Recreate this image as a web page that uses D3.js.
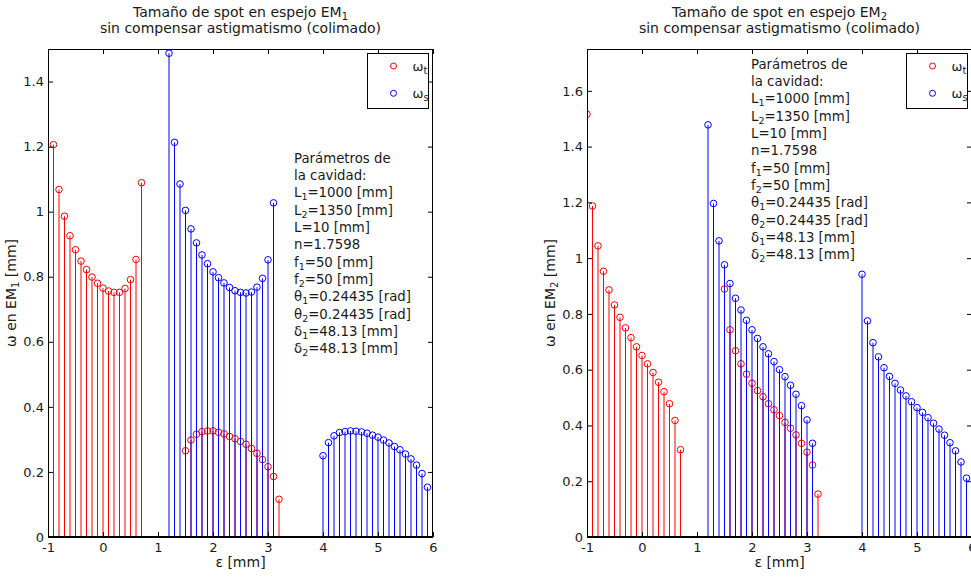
<!DOCTYPE html>
<html><head><meta charset="utf-8">
<script src="https://cdn.jsdelivr.net/npm/d3@7"></script>
<style>
html,body{margin:0;padding:0;background:#fff;overflow:hidden;}
text{font-family:"DejaVu Sans",sans-serif;fill:#1a1a1a;}
</style></head>
<body><svg id="c" width="971" height="578"></svg>
<script>
// ---------- data ----------
const xTicks = [-1,0,1,2,3,4,5,6];
const yTicksL = [0,0.2,0.4,0.6,0.8,1,1.2,1.4];
const yTicksR = [0,0.2,0.4,0.6,0.8,1,1.2,1.4,1.6];

// EM1 (left) — omega_t (red)
const L_t1_x = [-1.0,-0.9,-0.8,-0.7,-0.6,-0.5,-0.4,-0.3,-0.2,-0.1,0.0,0.1,0.2,0.3,0.4,0.5,0.6,0.7];
const L_t1_y = [1.9,1.206,1.068,0.986,0.926,0.883,0.848,0.822,0.799,0.780,0.765,0.756,0.752,0.752,0.764,0.791,0.853,1.089];
const L_t2_x = [1.5,1.6,1.7,1.8,1.9,2.0,2.1,2.2,2.3,2.4,2.5,2.6,2.7,2.8,2.9,3.0,3.1,3.2];
const L_t2_y = [0.265,0.298,0.316,0.324,0.326,0.326,0.322,0.317,0.309,0.302,0.294,0.285,0.272,0.257,0.238,0.216,0.186,0.116];
// EM1 (left) — omega_s (blue)
const L_s1_x = [1.2,1.3,1.4,1.5,1.6,1.7,1.8,1.9,2.0,2.1,2.2,2.3,2.4,2.5,2.6,2.7,2.8,2.9,3.0,3.1];
const L_s1_y = [1.487,1.213,1.085,1.004,0.947,0.904,0.867,0.840,0.815,0.797,0.781,0.767,0.757,0.752,0.750,0.753,0.768,0.795,0.852,1.027];
const L_s2_x = [4.0,4.1,4.2,4.3,4.4,4.5,4.6,4.7,4.8,4.9,5.0,5.1,5.2,5.3,5.4,5.5,5.6,5.7,5.8,5.9];
const L_s2_y = [0.250,0.290,0.311,0.321,0.324,0.326,0.325,0.323,0.319,0.313,0.307,0.298,0.289,0.278,0.268,0.255,0.240,0.221,0.195,0.153];

// EM2 (right) — omega_t (red)
const R_t1_x = [-1.0,-0.9,-0.8,-0.7,-0.6,-0.5,-0.4,-0.3,-0.2,-0.1,0.0,0.1,0.2,0.3,0.4,0.5,0.6,0.7];
const R_t1_y = [1.516,1.187,1.044,0.953,0.886,0.832,0.788,0.750,0.715,0.682,0.651,0.621,0.590,0.555,0.521,0.478,0.418,0.313];
const R_t2_x = [1.5,1.6,1.7,1.8,1.9,2.0,2.1,2.2,2.3,2.4,2.5,2.6,2.7,2.8,2.9,3.0,3.1,3.2];
const R_t2_y = [0.889,0.743,0.668,0.621,0.584,0.551,0.525,0.503,0.478,0.456,0.435,0.411,0.390,0.366,0.336,0.304,0.258,0.154];
// EM2 (right) — omega_s (blue)
const R_s1_x = [1.2,1.3,1.4,1.5,1.6,1.7,1.8,1.9,2.0,2.1,2.2,2.3,2.4,2.5,2.6,2.7,2.8,2.9,3.0,3.1];
const R_s1_y = [1.478,1.196,1.062,0.976,0.909,0.856,0.814,0.777,0.743,0.712,0.682,0.657,0.629,0.600,0.575,0.544,0.512,0.471,0.420,0.336];
const R_s2_x = [4.0,4.1,4.2,4.3,4.4,4.5,4.6,4.7,4.8,4.9,5.0,5.1,5.2,5.3,5.4,5.5,5.6,5.7,5.8,5.9];
const R_s2_y = [0.942,0.775,0.697,0.646,0.607,0.576,0.551,0.527,0.506,0.485,0.464,0.447,0.428,0.408,0.387,0.365,0.338,0.309,0.269,0.211];

const paramLines = ["Parámetros de","la cavidad:","L_1=1000 [mm]","L_2=1350 [mm]","L=10 [mm]","n=1.7598",
  "f_1=50 [mm]","f_2=50 [mm]","θ_1=0.24435 [rad]","θ_2=0.24435 [rad]","δ_1=48.13 [mm]","δ_2=48.13 [mm]"];
const legendLabels = ["ω_t","ω_s"];
const seriesColors = ["#ff0000","#0000ff"];

// ---------- helpers ----------
const svg = d3.select("#c");
const zip = (xs, ys) => xs.map((x,i)=>({x, y: ys[i]}));

function richText(sel, str, subSize){
  const parts = [];
  let buf = "";
  for (let i=0;i<str.length;i++){
    if (str[i]==="_" && i+1<str.length){ if(buf) parts.push({t:buf,s:false}); buf=""; parts.push({t:str[i+1],s:true}); i++; }
    else buf += str[i];
  }
  if (buf) parts.push({t:buf,s:false});
  let shifted = false;
  parts.forEach(p=>{
    const ts = sel.append("tspan").text(p.t);
    if (p.s){ ts.attr("font-size", subSize).attr("dy", shifted?0:3); shifted = true; }
    else if (shifted){ ts.attr("dy", -3); shifted = false; }
  });
}

function panel(cfg){
  const {x0,x1,y0,y1,yMax,yTicks,series,title,ylab,id,textX,textY} = cfg;
  const x = d3.scaleLinear().domain([-1,6]).range([x0,x1]);
  const y = d3.scaleLinear().domain([0,yMax]).range([y0,y1]);
  const g = svg.append("g");

  g.append("clipPath").attr("id","clip"+id).append("rect")
    .attr("x",x0).attr("y",y1).attr("width",x1-x0).attr("height",y0-y1);

  const plot = g.append("g").attr("clip-path",`url(#clip${id})`);
  series.forEach((s,si)=>{
    const sg = plot.append("g");
    sg.selectAll("line").data(s).join("line")
      .attr("x1",d=>x(d.x)).attr("x2",d=>x(d.x))
      .attr("y1",y(0)).attr("y2",d=>y(d.y))
      .attr("stroke",seriesColors[si]).attr("stroke-width",1);
    sg.selectAll("circle").data(s).join("circle")
      .attr("cx",d=>x(d.x)).attr("cy",d=>y(d.y)).attr("r",3.3)
      .attr("fill","none").attr("stroke",seriesColors[si]).attr("stroke-width",1);
  });

  // frame
  g.append("rect").attr("x",x0+0.5).attr("y",y1+0.5).attr("width",x1-x0-1).attr("height",y0-y1)
    .attr("fill","none").attr("stroke","#000").attr("stroke-width",1);
  g.append("line").attr("x1",x0).attr("x2",x1).attr("y1",y0).attr("y2",y0)
    .attr("stroke","#000").attr("stroke-width",2);

  // axes via d3 axis generators (inward ticks)
  const fmt = d => String(d);
  const axB = g.append("g").attr("transform",`translate(0,${y0})`)
    .call(d3.axisBottom(x).tickValues(xTicks).tickSizeInner(-5).tickSizeOuter(0).tickPadding(6).tickFormat(fmt));
  const axT = g.append("g").attr("transform",`translate(0,${y1})`)
    .call(d3.axisTop(x).tickValues(xTicks).tickSizeInner(-5).tickSizeOuter(0).tickFormat(""));
  const axL = g.append("g").attr("transform",`translate(${x0},0)`)
    .call(d3.axisLeft(y).tickValues(yTicks).tickSizeInner(-5).tickSizeOuter(0).tickPadding(4).tickFormat(fmt));
  const axR = g.append("g").attr("transform",`translate(${x1},0)`)
    .call(d3.axisRight(y).tickValues(yTicks).tickSizeInner(-5).tickSizeOuter(0).tickFormat(""));
  [axB,axT,axL,axR].forEach(a=>{
    a.select(".domain").remove();
    a.selectAll(".tick line").attr("stroke","#000");
    a.selectAll("text").attr("font-size",13).attr("font-family","DejaVu Sans").attr("fill","#1a1a1a");
  });

  // titles
  const cx = (x0+x1)/2;
  const t1 = g.append("text").attr("x",cx).attr("y",17).attr("text-anchor","middle").attr("font-size",14);
  richText(t1, title[0], 10);
  g.append("text").attr("x",cx).attr("y",33).attr("text-anchor","middle").attr("font-size",14).text(title[1]);

  // axis labels
  g.append("text").attr("x",cx).attr("y",567).attr("text-anchor","middle").attr("font-size",14).text("ε [mm]");
  const yl = g.append("text").attr("transform",`translate(${x0-32},${(y0+y1)/2}) rotate(-90)`)
    .attr("text-anchor","middle").attr("font-size",14);
  richText(yl, ylab, 10);

  // parameter text
  paramLines.forEach((line,i)=>{
    const t = g.append("text").attr("x",textX).attr("y",textY + i*17.36).attr("font-size",13.3);
    richText(t, line, 9.5);
  });

  // legend
  const lx1 = x1-5, lx0 = lx1-61, ly0 = 53, ly1 = 108;
  g.append("rect").attr("x",lx0+0.5).attr("y",ly0+0.5).attr("width",lx1-lx0).attr("height",ly1-ly0)
    .attr("fill","#fff").attr("stroke","#000").attr("stroke-width",1);
  legendLabels.forEach((lab,i)=>{
    const yy = 66 + i*27.3;
    g.append("circle").attr("cx",lx0+26.5).attr("cy",yy).attr("r",3)
      .attr("fill","none").attr("stroke",seriesColors[i]).attr("stroke-width",1);
    const t = g.append("text").attr("x",lx0+45.5).attr("y",yy+4.5).attr("font-size",13);
    richText(t, lab, 10);
  });
}

panel({id:"L", x0:48, x1:433, y0:537, y1:49, yMax:1.5, yTicks:yTicksL,
  series:[zip(L_t1_x,L_t1_y).concat(zip(L_t2_x,L_t2_y)), zip(L_s1_x,L_s1_y).concat(zip(L_s2_x,L_s2_y))],
  title:["Tamaño de spot en espejo EM_1","sin compensar astigmatismo (colimado)"],
  ylab:"ω en EM_1 [mm]", textX:294, textY:162.5});

panel({id:"R", x0:587, x1:972, y0:537, y1:49, yMax:1.75, yTicks:yTicksR,
  series:[zip(R_t1_x,R_t1_y).concat(zip(R_t2_x,R_t2_y)), zip(R_s1_x,R_s1_y).concat(zip(R_s2_x,R_s2_y))],
  title:["Tamaño de spot en espejo EM_2","sin compensar astigmatismo (colimado)"],
  ylab:"ω en EM_2 [mm]", textX:751, textY:68.5});
</script></body></html>
